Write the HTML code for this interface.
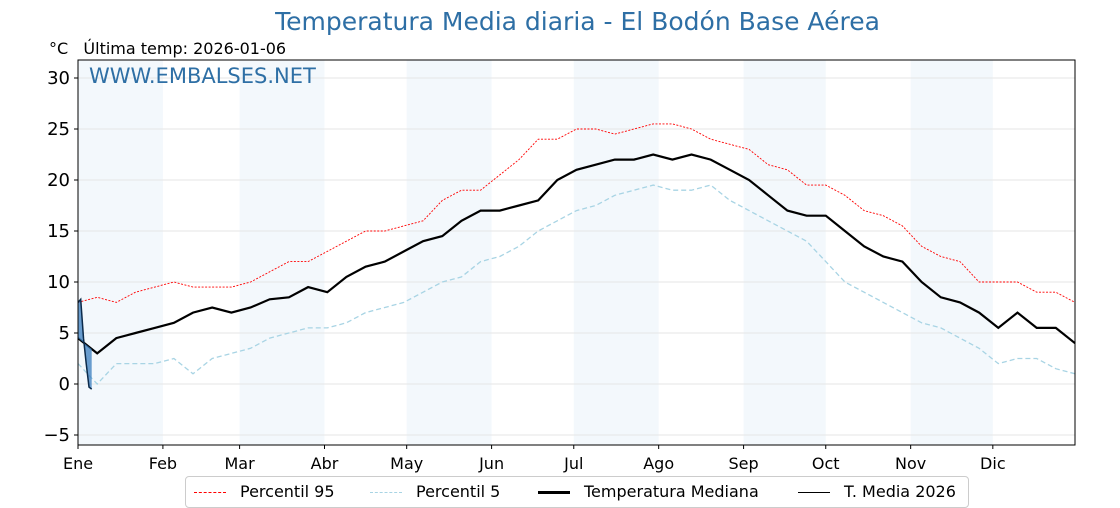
<!DOCTYPE html>
<html><head><meta charset="utf-8"><style>
body{margin:0;background:#fff;}
svg{font-family:"DejaVu Sans","Liberation Sans",sans-serif;display:block}
</style></head><body>
<svg id="c" width="1120" height="500"></svg>
<script>
const days=[0,7,14,21,28,35,42,49,56,63,70,77,84,91,98,105,112,119,126,133,140,147,154,161,168,175,182,189,196,203,210,217,224,231,238,245,252,259,266,273,280,287,294,301,308,315,322,329,336,343,350,357,364];
const median=[4.5,3,4.5,5,5.5,6,7,7.5,7,7.5,8.3,8.5,9.5,9,10.5,11.5,12,13,14,14.5,16,17,17,17.5,18,20,21,21.5,22,22,22.5,22,22.5,22,21,20,18.5,17,16.5,16.5,15,13.5,12.5,12,10,8.5,8,7,5.5,7,5.5,5.5,4];
const p95=[8,8.5,8,9,9.5,10,9.5,9.5,9.5,10,11,12,12,13,14,15,15,15.5,16,18,19,19,20.5,22,24,24,25,25,24.5,25,25.5,25.5,25,24,23.5,23,21.5,21,19.5,19.5,18.5,17,16.5,15.5,13.5,12.5,12,10,10,10,9,9,8];
const p5=[2,0,2,2,2,2.5,1,2.5,3,3.5,4.5,5,5.5,5.5,6,7,7.5,8,9,10,10.5,12,12.5,13.5,15,16,17,17.5,18.5,19,19.5,19,19,19.5,18,17,16,15,14,12,10,9,8,7,6,5.5,4.5,3.5,2,2.5,2.5,1.5,1];
const days2026=[0,1,2,3,4,5];
const t2026=[8.0,8.3,4.5,2,-0.3,-0.5];
const yTicks=[-5,0,5,10,15,20,25,30];
const months=["Ene","Feb","Mar","Abr","May","Jun","Jul","Ago","Sep","Oct","Nov","Dic"];
const monthStart=[0,31,59,90,120,151,181,212,243,273,304,334,365];

const NS="http://www.w3.org/2000/svg",svg=document.getElementById('c');
const X0=78,X1=1075,Y0=60,Y1=445;
const x=d=>X0+d*(X1-X0)/364;
const y=v=>384-v*10.2;
function el(t,a,p){const e=document.createElementNS(NS,t);for(const k in a)e.setAttribute(k,a[k]);(p||svg).appendChild(e);return e;}
function txt(s,a){const e=el('text',a);e.textContent=s;return e;}

for(let i=0;i<12;i+=2){const r=el('rect',{x:x(monthStart[i]),y:Y0,width:x(monthStart[i+1])-x(monthStart[i]),height:Y1-Y0,fill:'#f3f8fc'});

}
yTicks.forEach(v=>{const g=el('line',{x1:X0,x2:X1,y1:y(v),y2:y(v),stroke:'#e6e6e6','stroke-width':1});

});
function pts(xs,ys){return xs.map((d,i)=>x(d).toFixed(1)+','+y(ys[i]).toFixed(1)).join(' ');}
let l=el('polyline',{points:pts(days,p95),fill:'none',stroke:'red','stroke-width':0.9,'stroke-dasharray':'2,1.5'});


l=el('polyline',{points:pts(days,p5),fill:'none',stroke:'#a8d4e4','stroke-width':1.3,'stroke-dasharray':'5,3'});


l=el('polyline',{points:pts(days,median),fill:'none',stroke:'#000','stroke-width':2.2});


const medAt=d=>{for(let i=0;i<days.length-1;i++)if(d<=days[i+1])return median[i]+(median[i+1]-median[i])*(d-days[i])/(days[i+1]-days[i]);return median[median.length-1];};
let fp=days2026.map((d,i)=>x(d)+','+y(t2026[i])).join(' ')+' '+days2026.slice().reverse().map(d=>x(d)+','+y(medAt(d))).join(' ');
l=el('polygon',{points:fp,fill:'#3a7dbf',opacity:0.75});


l=el('polyline',{points:pts(days2026,t2026),fill:'none',stroke:'#0b2a4a','stroke-width':1.5});


l=el('rect',{x:X0,y:Y0,width:X1-X0,height:Y1-Y0,fill:'none',stroke:'#000','stroke-width':1});


yTicks.forEach(v=>{el('line',{x1:X0-4,x2:X0,y1:y(v),y2:y(v),stroke:'#000'});
const t=txt(v<0?'−'+(-v):String(v),{x:X0-8,y:y(v)+6,'text-anchor':'end','font-size':18});

});
months.forEach((m,i)=>{el('line',{x1:x(monthStart[i]),x2:x(monthStart[i]),y1:Y1,y2:Y1+4,stroke:'#000'});
const t=txt(m,{x:x(monthStart[i]),y:469,'text-anchor':'middle','font-size':16});

});
</script>
<div style="position:absolute;left:0;top:0;width:1120px;height:500px;font-family:'DejaVu Sans','Liberation Sans',sans-serif;pointer-events:none">
<div style="position:absolute;left:0;width:1155px;top:7px;text-align:center;font-size:25px;color:#2e6fa5">Temperatura Media diaria - El Bodón Base Aérea</div>
<div style="position:absolute;left:49px;top:39px;font-size:16px">°C &nbsp;&nbsp;Última temp: 2026-01-06</div>
<div style="position:absolute;left:89px;top:64px;font-size:21px;color:#2e6fa5">WWW.EMBALSES.NET</div>
<div style="position:absolute;left:185px;top:476px;width:782px;height:30px;border:1px solid #ccc;border-radius:4px;background:#fff;font-size:16px">
<span style="position:absolute;left:8px;top:5px"><span style="display:inline-block;width:32px;border-top:1px dashed red;vertical-align:middle;margin-right:14px"></span>Percentil 95</span>
<span style="position:absolute;left:184px;top:5px"><span style="display:inline-block;width:32px;border-top:1.5px dashed #a8d4e4;vertical-align:middle;margin-right:14px"></span>Percentil 5</span>
<span style="position:absolute;left:352px;top:5px"><span style="display:inline-block;width:32px;border-top:3px solid #000;vertical-align:middle;margin-right:14px"></span>Temperatura Mediana</span>
<span style="position:absolute;left:612px;top:5px"><span style="display:inline-block;width:32px;border-top:1px solid #000;vertical-align:middle;margin-right:14px"></span>T. Media 2026</span>
</div></div>
</body></html>
